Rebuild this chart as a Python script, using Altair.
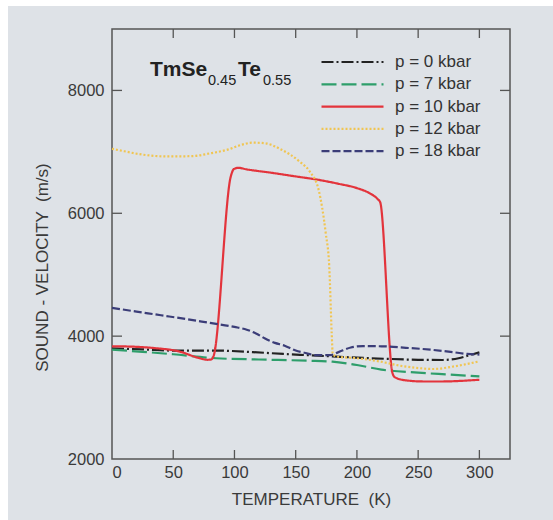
import altair as alt
import pandas as pd

# ---- data ----
series_labels = ["p = 0 kbar", "p = 7 kbar", "p = 10 kbar", "p = 12 kbar", "p = 18 kbar"]

t_p0 = [0, 25, 50, 85, 115, 140, 160, 180, 200, 225, 250, 270, 283, 292, 300]
v_p0 = [3800, 3785, 3765, 3765, 3740, 3710, 3690, 3670, 3650, 3630, 3615, 3612, 3640, 3690, 3735]

t_p7 = [0, 25, 50, 85, 120, 160, 180, 200, 220, 250, 275, 300]
v_p7 = [3780, 3745, 3705, 3640, 3620, 3600, 3585, 3530, 3455, 3405, 3375, 3345]

t_p10 = [0, 15, 35, 55, 70, 78, 81, 83, 97, 99.5, 103, 110, 130, 150, 167, 185, 200, 210, 217, 219,
         229, 231, 240, 255, 270, 285, 300]
v_p10 = [3835, 3830, 3805, 3750, 3650, 3615, 3620, 3680, 6600, 6720, 6740, 6715, 6660, 6600, 6550,
         6480, 6410, 6330, 6230, 6180, 3400, 3330, 3280, 3262, 3262, 3272, 3290]

t_p12 = [0, 10, 25, 45, 65, 80, 95, 105, 115, 125, 138, 153, 161.5, 168.7, 174.5, 177.4, 179.4,
         180.3, 185, 200, 218, 235, 250, 262, 280, 300]
v_p12 = [7050, 7010, 6955, 6925, 6930, 6975, 7040, 7110, 7150, 7140, 7040, 6845, 6680, 6385, 5680,
         5135, 4050, 3700, 3665, 3640, 3590, 3520, 3480, 3465, 3510, 3590]

t_p18 = [0, 20, 40, 60, 80, 100, 110, 118, 125, 133, 141, 150, 157, 167, 178, 185, 195, 205, 220,
         240, 260, 280, 290, 300]
v_p18 = [4460, 4400, 4340, 4280, 4215, 4150, 4105, 4040, 3960, 3890, 3845, 3765, 3730, 3690, 3690,
         3740, 3815, 3838, 3835, 3810, 3780, 3735, 3710, 3700]

x_tick_values = [0, 50, 100, 150, 200, 250, 300]
y_tick_values = [2000, 4000, 6000, 8000]
title_parts = ["TmSe", "0.45", "Te", "0.55"]

series_t = [t_p0, t_p7, t_p10, t_p12, t_p18]
series_v = [v_p0, v_p7, v_p10, v_p12, v_p18]

rows = []
for lab, ts, vs in zip(series_labels, series_t, series_v):
    for t, v in zip(ts, vs):
        rows.append({"series": lab, "T": t, "V": v})
df = pd.DataFrame(rows)

colors = ["#222222", "#2e9e6b", "#e3343c", "#f0c552", "#3b3d78"]
dashes = [[12, 3, 2, 3], [15, 5], [1, 0], [2, 2], [8, 3]]

W, H = 398, 430
FONT = "Liberation Sans"

xscale = alt.Scale(domain=[0, 325], nice=False)
yscale = alt.Scale(domain=[2000, 9000], nice=False)

one = pd.DataFrame({"k": [0]})

background = alt.Chart(one).mark_rect(fill="#dee2e7").encode(
    x=alt.value(-104), x2=alt.value(W + 80), y=alt.value(-23), y2=alt.value(H + 90)
)

frame = alt.Chart(one).mark_rect(fill="transparent", stroke="#555555", strokeWidth=1.5).encode(
    x=alt.value(0), x2=alt.value(W), y=alt.value(0), y2=alt.value(H)
)

xt = pd.DataFrame({"T": x_tick_values[1:]})
yt = pd.DataFrame({"V": y_tick_values[1:]})
tick_style = dict(stroke="#555555", strokeWidth=1.3)
ticks_bottom = alt.Chart(xt).mark_rule(**tick_style).encode(
    x=alt.X("T:Q", scale=xscale), y=alt.value(H), y2=alt.value(H - 9))
ticks_top = alt.Chart(xt).mark_rule(**tick_style).encode(
    x=alt.X("T:Q", scale=xscale), y=alt.value(0), y2=alt.value(9))
ticks_left = alt.Chart(yt).mark_rule(**tick_style).encode(
    y=alt.Y("V:Q", scale=yscale), x=alt.value(0), x2=alt.value(10))
ticks_right = alt.Chart(yt).mark_rule(**tick_style).encode(
    y=alt.Y("V:Q", scale=yscale), x=alt.value(W), x2=alt.value(W - 10))

legend = alt.Legend(
    title=None, orient="none", legendX=208, legendY=25,
    symbolType="stroke", symbolSize=3844, symbolStrokeWidth=2.2,
    labelFont=FONT, labelFontSize=17, labelColor="#333333", labelOffset=10,
    clipHeight=16, rowPadding=5.3,
)

x_axis = alt.Axis(values=x_tick_values, ticks=False, domain=False, grid=False, zindex=1,
                  format="d",
                  labelFont=FONT, labelFontSize=16.5, labelColor="#3a3a3a",
                  labelPadding=5, title="TEMPERATURE \u00a0(K)", titleFont=FONT,
                  titleFontSize=17, titleFontWeight="normal", titleColor="#3a3a3a",
                  titleY=45, titleBaseline="alphabetic")
y_axis = alt.Axis(values=y_tick_values, ticks=False, domain=False, grid=False, zindex=1,
                  format="d",
                  labelFont=FONT, labelFontSize=16.5, labelColor="#3a3a3a",
                  labelPadding=8, title="SOUND - VELOCITY \u00a0(m/s)", titleFont=FONT,
                  titleFontSize=17, titleFontWeight="normal", titleColor="#3a3a3a",
                  titleAngle=-90, titleX=-65, titleY=238, titleAlign="center",
                  titleBaseline="alphabetic")

lines = alt.Chart(df).mark_line(strokeWidth=2.2, interpolate="monotone").encode(
    x=alt.X("T:Q", scale=xscale, axis=x_axis),
    y=alt.Y("V:Q", scale=yscale, axis=y_axis),
    color=alt.Color("series:N", scale=alt.Scale(domain=series_labels, range=colors), legend=legend),
    strokeDash=alt.StrokeDash("series:N", scale=alt.Scale(domain=series_labels, range=dashes),
                              legend=legend),
    detail="series:N",
)

def text_part(i, x, y, size, weight):
    return alt.Chart(pd.DataFrame({"txt": [title_parts[i]]})).mark_text(
        align="left", baseline="alphabetic", font=FONT, fontSize=size, fontWeight=weight,
        color="#222222").encode(text="txt:N", x=alt.value(x), y=alt.value(y))

title_layers = [
    text_part(0, 38, 47.4, 21, "bold"),
    text_part(1, 96, 55.7, 14.5, "normal"),
    text_part(2, 126, 47.4, 21, "bold"),
    text_part(3, 151, 55.7, 14.5, "normal"),
]

chart = alt.layer(
    background, frame, ticks_bottom, ticks_top, ticks_left, ticks_right, lines, *title_layers
).properties(
    width=W, height=H,
    autosize=alt.AutoSizeParams(type="none"),
    padding={"left": 112, "top": 29, "right": 43, "bottom": 61},
    background="white",
).configure_view(stroke="transparent")

chart.save("out.html", embed_options={"renderer": "svg", "actions": False})
